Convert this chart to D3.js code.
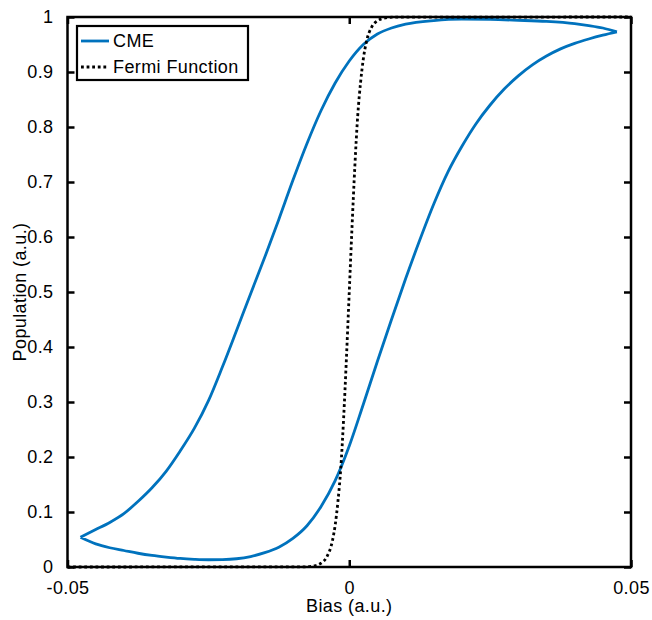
<!DOCTYPE html>
<html>
<head>
<meta charset="utf-8">
<script src="https://d3js.org/d3.v7.min.js"></script>
<style>
  body { margin: 0; background: #fff; }
  text { font-family: "Liberation Sans", Arial, Helvetica, sans-serif; fill: #000; letter-spacing: 0.4px; }
</style>
</head>
<body>
<div class="chart"></div>
<script>
// CME loop, lower branch (left tip -> right tip)
var cmeLowerX = [-0.0477, -0.045, -0.0425, -0.04, -0.0375, -0.035, -0.0325, -0.03, -0.0275, -0.025, -0.0225, -0.02, -0.0175, -0.015, -0.0125, -0.01, -0.0075, -0.005, -0.0025, 0, 0.0025, 0.005, 0.0075, 0.01, 0.0125, 0.015, 0.0175, 0.02, 0.0225, 0.025, 0.0275, 0.03, 0.0325, 0.035, 0.0375, 0.04, 0.0425, 0.045, 0.0475];
var cmeLowerY = [0.054, 0.042, 0.035, 0.030, 0.025, 0.021, 0.018, 0.0155, 0.014, 0.0132, 0.0135, 0.015, 0.019, 0.026, 0.036, 0.052, 0.075, 0.110, 0.157, 0.220, 0.296, 0.374, 0.450, 0.524, 0.594, 0.660, 0.718, 0.765, 0.806, 0.840, 0.869, 0.893, 0.913, 0.929, 0.942, 0.952, 0.960, 0.967, 0.973];
// CME loop, upper branch (left tip -> right tip)
var cmeUpperX = [-0.0477, -0.045, -0.0425, -0.04, -0.0375, -0.035, -0.0325, -0.03, -0.0275, -0.025, -0.0225, -0.02, -0.0175, -0.015, -0.0125, -0.01, -0.0075, -0.005, -0.0025, 0, 0.0025, 0.005, 0.0075, 0.01, 0.015, 0.02, 0.025, 0.03, 0.035, 0.04, 0.0425, 0.045, 0.0475];
var cmeUpperY = [0.054, 0.068, 0.081, 0.097, 0.119, 0.144, 0.174, 0.211, 0.252, 0.302, 0.364, 0.430, 0.497, 0.563, 0.632, 0.703, 0.770, 0.830, 0.880, 0.920, 0.950, 0.969, 0.980, 0.987, 0.9935, 0.996, 0.9955, 0.994, 0.992, 0.988, 0.9845, 0.980, 0.973];
// Fermi function
var fermiX = [-0.05, -0.008, -0.006, -0.005, -0.004, -0.003, -0.0025, -0.002, -0.0015, -0.001, -0.0005, 0, 0.0005, 0.001, 0.0015, 0.002, 0.0025, 0.003, 0.004, 0.005, 0.006, 0.008, 0.05];
var fermiY = [0, 0.0003, 0.0025, 0.007, 0.018, 0.047, 0.076, 0.12, 0.18, 0.27, 0.38, 0.5, 0.62, 0.73, 0.82, 0.88, 0.924, 0.953, 0.982, 0.993, 0.9975, 0.9997, 1];
var xTicks = [-0.05, 0, 0.05];
var xTickLabels = ["-0.05", "0", "0.05"];
var yTicks = [0, 0.1, 0.2, 0.3, 0.4, 0.5, 0.6, 0.7, 0.8, 0.9, 1];
var yTickLabels = ["0", "0.1", "0.2", "0.3", "0.4", "0.5", "0.6", "0.7", "0.8", "0.9", "1"];

var width = 652, height = 620;
var margin = {top: 17, right: 21, bottom: 53, left: 67.5};
var innerW = width - margin.left - margin.right;
var innerH = height - margin.top - margin.bottom;
var blue = "#0072BD";
var dots = "2.8,2.8";

var x = d3.scaleLinear().domain([-0.05, 0.05]).range([0, innerW]);
var y = d3.scaleLinear().domain([0, 1]).range([innerH, 0]);

var svg = d3.select(".chart").append("svg")
    .attr("width", width)
    .attr("height", height);

var g = svg.append("g")
    .attr("transform", "translate(" + margin.left + "," + margin.top + ")");

var zip = function (xs, ys) { return xs.map(function (v, i) { return [v, ys[i]]; }); };
var line = d3.line()
    .x(function (d) { return x(d[0]); })
    .y(function (d) { return y(d[1]); })
    .curve(d3.curveMonotoneX);

g.append("path")
    .attr("d", line(zip(cmeLowerX, cmeLowerY)) + line(zip(cmeUpperX, cmeUpperY)))
    .attr("fill", "none")
    .attr("stroke", blue)
    .attr("stroke-width", 2.8);

g.append("path")
    .attr("d", line(zip(fermiX, fermiY)))
    .attr("fill", "none")
    .attr("stroke", "#000")
    .attr("stroke-width", 2.8)
    .attr("stroke-dasharray", dots);

// axes (box with inward ticks)
var tickLen = 7;
var axisFont = "18px";
var xAxis = d3.axisBottom(x).tickValues(xTicks).tickSizeInner(-tickLen).tickSizeOuter(0)
    .tickPadding(14).tickFormat(function (d, i) { return xTickLabels[i]; });
var xAxisTop = d3.axisTop(x).tickValues(xTicks).tickSizeInner(-tickLen).tickSizeOuter(0).tickFormat("");
var yAxis = d3.axisLeft(y).tickValues(yTicks).tickSizeInner(-tickLen).tickSizeOuter(0)
    .tickPadding(14).tickFormat(function (d, i) { return yTickLabels[i]; });
var yAxisRight = d3.axisRight(y).tickValues(yTicks).tickSizeInner(-tickLen).tickSizeOuter(0).tickFormat("");

var axes = [
    g.append("g").attr("transform", "translate(0," + innerH + ")").call(xAxis),
    g.append("g").call(xAxisTop),
    g.append("g").call(yAxis),
    g.append("g").attr("transform", "translate(" + innerW + ",0)").call(yAxisRight)
];
axes.forEach(function (a) {
    a.select(".domain").remove();
    a.selectAll("line").attr("stroke", "#000").attr("stroke-width", 2.5);
    a.selectAll("text").style("font-size", axisFont).attr("fill", "#000");
});

g.append("rect")
    .attr("width", innerW)
    .attr("height", innerH)
    .attr("fill", "none")
    .attr("stroke", "#000")
    .attr("stroke-width", 2.5);

// axis titles
svg.append("text")
    .attr("x", margin.left + innerW / 2)
    .attr("y", 612)
    .attr("text-anchor", "middle")
    .style("font-size", "18px")
    .text("Bias (a.u.)");

svg.append("text")
    .attr("transform", "translate(26," + (margin.top + innerH / 2) + ") rotate(-90)")
    .attr("text-anchor", "middle")
    .style("font-size", "18px")
    .text("Population (a.u.)");

// legend
var legend = svg.append("g").attr("transform", "translate(77,26)");
legend.append("rect")
    .attr("width", 171)
    .attr("height", 54)
    .attr("fill", "#fff")
    .attr("stroke", "#000")
    .attr("stroke-width", 2.2);

var legendItems = [
    {label: "CME", color: blue, dash: null},
    {label: "Fermi Function", color: "#000", dash: dots}
];
legendItems.forEach(function (item, i) {
    var yy = 15 + i * 26;
    legend.append("line")
        .attr("x1", 4).attr("x2", 32)
        .attr("y1", yy).attr("y2", yy)
        .attr("stroke", item.color)
        .attr("stroke-width", 2.8)
        .attr("stroke-dasharray", item.dash);
    legend.append("text")
        .attr("x", 36)
        .attr("y", yy + 6)
        .style("font-size", axisFont)
        .text(item.label);
});
</script>
</body>
</html>
